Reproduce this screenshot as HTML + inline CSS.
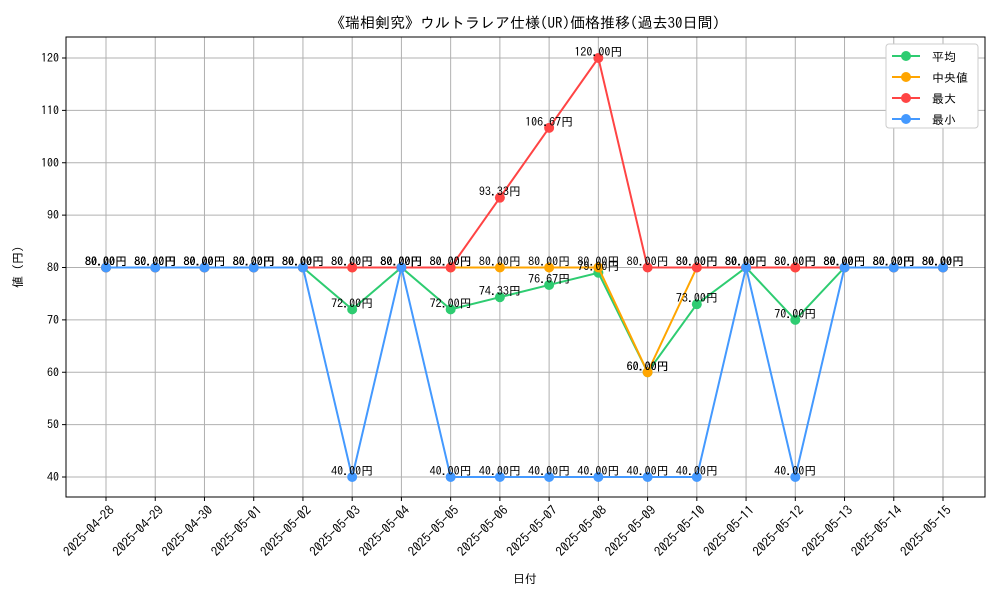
<!DOCTYPE html>
<html><head><meta charset="utf-8"><style>
body{margin:0;background:#fff}
svg text{font-family:"IPAGothic","Liberation Sans","Noto Sans CJK JP",sans-serif}
</style></head><body>
<svg id="chart" width="1000" height="600" xmlns="http://www.w3.org/2000/svg">
<rect width="1000" height="600" fill="#fff"/>
<text x="525" y="28" font-size="15" text-anchor="middle">《瑞相剣究》ウルトラレア仕様(UR)価格推移(過去30日間)</text>
<g id="grid"></g>
<rect x="66" y="37" width="919" height="460" fill="none" stroke="#000" stroke-width="1"/>
<g id="ticks"></g>
<g id="series"></g>
<g id="labels"></g>
<text x="525" y="583" font-size="12" text-anchor="middle">日付</text>
<text x="22" y="267" font-size="12" text-anchor="middle" transform="rotate(-90 22 267)">値 (円)</text>
<g>
<rect x="886" y="44" width="92" height="84" rx="3" fill="#fff" stroke="#ccc"/>
<g id="legend"></g>
</g>
</svg>
<script>
const dates=["2025-04-28","2025-04-29","2025-04-30","2025-05-01","2025-05-02","2025-05-03","2025-05-04","2025-05-05","2025-05-06","2025-05-07","2025-05-08","2025-05-09","2025-05-10","2025-05-11","2025-05-12","2025-05-13","2025-05-14","2025-05-15"];
const avgValues=[80,80,80,80,80,72,80,72,74.33,76.67,79,60,73,80,70,80,80,80];
const medianValues=[80,80,80,80,80,80,80,80,80,80,80,60,80,80,80,80,80,80];
const maxValues=[80,80,80,80,80,80,80,80,93.33,106.67,120,80,80,80,80,80,80,80];
const minValues=[80,80,80,80,80,40,80,40,40,40,40,40,40,80,40,80,80,80];
const yTicks=[40,50,60,70,80,90,100,110,120];
const seriesNames=["平均","中央値","最大","最小"];
const seriesColors=["#2ecc71","#ffa500","#ff4444","#4499ff"];
const NS="http://www.w3.org/2000/svg";
const X=i=>106+i*(837/17);
const Y=v=>477-(v-40)*(419/80);
function mk(tag,attrs,parent){const e=document.createElementNS(NS,tag);for(const k in attrs)e.setAttribute(k,attrs[k]);parent.appendChild(e);return e;}
const grid=document.getElementById('grid'),ticks=document.getElementById('ticks');
dates.forEach((d,i)=>{
 const g=mk('line',{x1:X(i),x2:X(i),y1:37,y2:497,stroke:'#b0b0b0','stroke-width':1},grid);
 
 
 mk('line',{x1:X(i),x2:X(i),y1:497,y2:501,stroke:'#000'},ticks);
 const tx=X(i)+9, ty=511;
 const t=mk('text',{x:tx,y:ty,'font-size':13,'text-anchor':'end',transform:`rotate(-45 ${tx} ${ty})`},ticks);
 
 
 t.textContent=d;
});
yTicks.forEach(v=>{
 const g=mk('line',{x1:66,x2:985,y1:Y(v),y2:Y(v),stroke:'#b0b0b0','stroke-width':1},grid);
 
 
 mk('line',{x1:62,x2:66,y1:Y(v),y2:Y(v),stroke:'#000'},ticks);
 const t=mk('text',{x:59,y:Y(v)+4,'font-size':12,'text-anchor':'end'},ticks);
 
 
 t.textContent=v;
});
const all=[avgValues,medianValues,maxValues,minValues];
const sg=document.getElementById('series'),lg=document.getElementById('labels');
all.forEach((vals,s)=>{
 const p=mk('polyline',{points:vals.map((v,i)=>X(i)+','+Y(v)).join(' '),fill:'none',stroke:seriesColors[s],'stroke-width':2},sg);
 
 
 vals.forEach((v,i)=>{
  const c=mk('circle',{cx:X(i),cy:Y(v),r:5,fill:seriesColors[s]},sg);
  
  
  const t=mk('text',{x:X(i),y:Y(v)-2,'font-size':12,'text-anchor':'middle'},lg);
  
  
  t.textContent=v.toFixed(2)+'円';
 });
});
const leg=document.getElementById('legend');
seriesNames.forEach((n,s)=>{
 const y=56+s*21;
 mk('line',{x1:892,x2:920,y1:y,y2:y,stroke:seriesColors[s],'stroke-width':2},leg);
 mk('circle',{cx:906,cy:y,r:5,fill:seriesColors[s]},leg);
 const t=mk('text',{x:932,y:y+5,'font-size':12},leg);
 
 
 t.textContent=(s==1?' ':'')+n;
});
</script>
</body></html>
